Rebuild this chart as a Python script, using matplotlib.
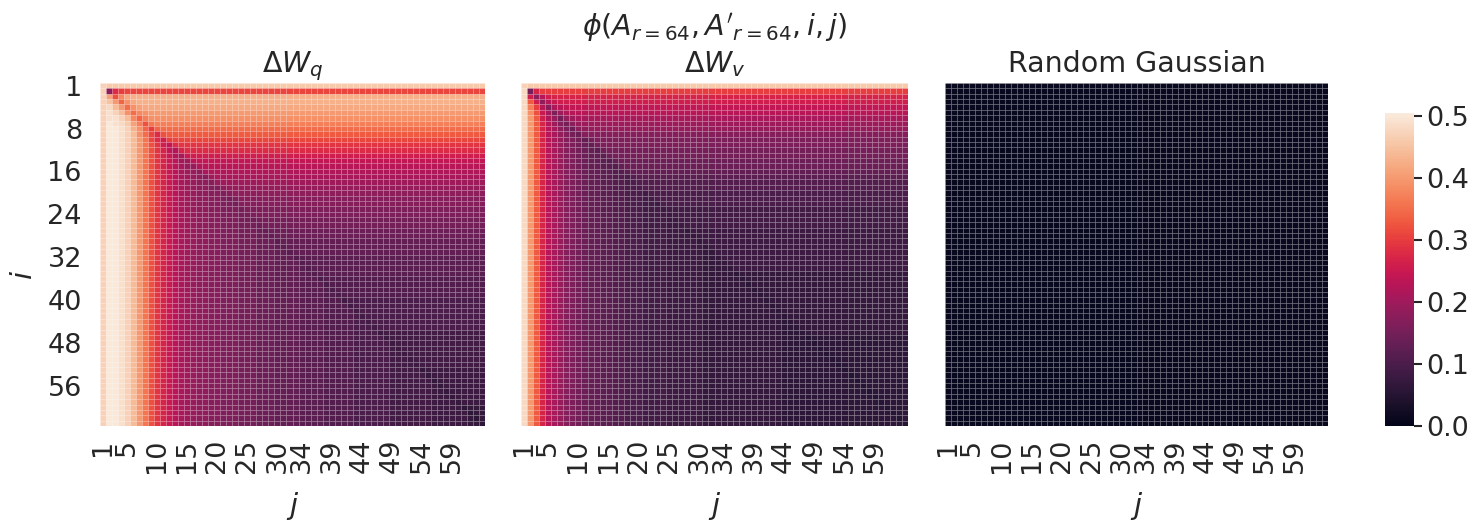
import numpy as np
import matplotlib
matplotlib.use("Agg")
import matplotlib.pyplot as plt
import seaborn as sns
from matplotlib.colors import Normalize

# ---------------- data ----------------
# each character is one cell; value = LEVELS.index(char) / 100
LEVELS = "0123456789abcdefghijklmnopqrstuvwxyzABCDEFGHIJKLMNOPQRSTUVWXYZ"

DWQ_ROWS = [
    "LKKKKKKK KKKKKKKK KKKKKKKK KKKKKKKK KKKKKKKK KKKKKKKK KKKKKKKK KKKKKKKK",
    "Lisuvvvv vvvvvvvv vvvvvvvv vvvvvvvv vvvvvvvv vvvvvvvv vvvvvvvv vvvvvvvv",
    "LFwCGHHH HHHHHHHH HHHHHHHH HHHHHHHH HHHHHHHH HHHHHHHH HHHHHHHH HHHHHHHH",
    "LJEyDGHH HHHHHHHH HHHHHHHH HHHHHHHH HHHHHHHH HHHHHHHH HHHHHHHH HHHHHHHH",
    "LMIEzDFG GGGGGGGG GGGGGGGG GGGGGGGG GGGGGGGG GGGGGGGG GGGGGGGG GGGGGGGG",
    "LNLIDzCD EEEEEEEE EEEEEEEE EEEEEEEE EEEEEEEE EEEEEEEE EEEEEEEE EEEEEEEE",
    "LNNLICyB DDDDDDDD DDDDDDDD DDDDDDDD DDDDDDDD DDDDDDDD DDDDDDDD DDDDDDDD",
    "LONMKFBw ABBBBBBB BBBBBBBB BBBBBBBB BBBBBBBB BBBBBBBB BBBBBBBB BBBBBBBB",
    "LOONLHDy uyzzzzzz zzzzzzzz zzzzzzzz zzzzzzzz zzzzzzzz zzzzzzzz zzzzzzzz",
    "LOONLIDz vswxxxxx xxxxxxxx xxxxxxxx xxxxxxxx xxxxxxxx xxxxxxxx xxxxxxxx",
    "LOONLIEA vsquvvvv vvvvvvvv vvvvvvvv vvvvvvvv vvvvvvvv vvvvvvvv vvvvvvvv",
    "LOONLIEA wtqosttt tttttttt tttttttt tttttttt tttttttt tttttttt tttttttt",
    "LOONLIEA wtromrss ssssssss ssssssss ssssssss ssssssss ssssssss ssssssss",
    "LOONLIEA wtrpmlpq qqqqqqqq qqqqqqqq qqqqqqqq qqqqqqqq qqqqqqqq qqqqqqqq",
    "LOONLIEA wtrpnkkn oooooooo oooooooo oooooooo oooooooo oooooooo oooooooo",
    "LOONLIEA wtrpnljj mnnnnnnn nnnnnnnn nnnnnnnn nnnnnnnn nnnnnnnn nnnnnnnn",
    "LOONLIEA wtrpnlkj ilmmmmmm mmmmmmmm mmmmmmmm mmmmmmmm mmmmmmmm mmmmmmmm",
    "LOONLIEA wtrpnlkj ihklllll llllllll llllllll llllllll llllllll llllllll",
    "LOONLIEA wtrpnlkj iihjkkkk kkkkkkkk kkkkkkkk kkkkkkkk kkkkkkkk kkkkkkkk",
    "LOONLIEA wtrpnlkj iihgijjj jjjjjjjj jjjjjjjj jjjjjjjj jjjjjjjj jjjjjjjj",
    "LOONLIEA wtrpnlkj iihhghii iiiiiiii iiiiiiii iiiiiiii iiiiiiii iiiiiiii",
    "LOONLIEA wtrpnlkj iihhgfgh hhhhhhhh hhhhhhhh hhhhhhhh hhhhhhhh hhhhhhhh",
    "LOONLIEA wtrpnlkj iihhggfh hhhhhhhh hhhhhhhh hhhhhhhh hhhhhhhh hhhhhhhh",
    "LOONLIEA wtrpnlkj iihhgggf gggggggg gggggggg gggggggg gggggggg gggggggg",
    "LOONLIEA wtrpnlkj iihhgggf fggggggg gggggggg gggggggg gggggggg gggggggg",
    "LOONLIEA wtrpnlkj iihhgggf feffffff ffffffff ffffffff ffffffff ffffffff",
    "LOONLIEA wtrpnlkj iihhgggf ffefffff ffffffff ffffffff ffffffff ffffffff",
    "LOONLIEA wtrpnlkj iihhgggf ffedeeee eeeeeeee eeeeeeee eeeeeeee eeeeeeee",
    "LOONLIEA wtrpnlkj iihhgggf ffeedeee eeeeeeee eeeeeeee eeeeeeee eeeeeeee",
    "LOONLIEA wtrpnlkj iihhgggf ffeeecdd dddddddd dddddddd dddddddd dddddddd",
    "LOONLIEA wtrpnlkj iihhgggf ffeeedcd dddddddd dddddddd dddddddd dddddddd",
    "LOONLIEA wtrpnlkj iihhgggf ffeeeddc dddddddd dddddddd dddddddd dddddddd",
    "LOONLIEA wtrpnlkj iihhgggf ffeeeddd bccccccc cccccccc cccccccc cccccccc",
    "LOONLIEA wtrpnlkj iihhgggf ffeeeddd dbcccccc cccccccc cccccccc cccccccc",
    "LOONLIEA wtrpnlkj iihhgggf ffeeeddd dcbccccc cccccccc cccccccc cccccccc",
    "LOONLIEA wtrpnlkj iihhgggf ffeeeddd dccbcccc cccccccc cccccccc cccccccc",
    "LOONLIEA wtrpnlkj iihhgggf ffeeeddd dcccabbb bbbbbbbb bbbbbbbb bbbbbbbb",
    "LOONLIEA wtrpnlkj iihhgggf ffeeeddd dccccabb bbbbbbbb bbbbbbbb bbbbbbbb",
    "LOONLIEA wtrpnlkj iihhgggf ffeeeddd dccccbab bbbbbbbb bbbbbbbb bbbbbbbb",
    "LOONLIEA wtrpnlkj iihhgggf ffeeeddd dccccbba bbbbbbbb bbbbbbbb bbbbbbbb",
    "LOONLIEA wtrpnlkj iihhgggf ffeeeddd dccccbbb 9aaaaaaa aaaaaaaa aaaaaaaa",
    "LOONLIEA wtrpnlkj iihhgggf ffeeeddd dccccbbb b9aaaaaa aaaaaaaa aaaaaaaa",
    "LOONLIEA wtrpnlkj iihhgggf ffeeeddd dccccbbb bb9aaaaa aaaaaaaa aaaaaaaa",
    "LOONLIEA wtrpnlkj iihhgggf ffeeeddd dccccbbb bba9aaaa aaaaaaaa aaaaaaaa",
    "LOONLIEA wtrpnlkj iihhgggf ffeeeddd dccccbbb bbaa9aaa aaaaaaaa aaaaaaaa",
    "LOONLIEA wtrpnlkj iihhgggf ffeeeddd dccccbbb bbaaa9aa aaaaaaaa aaaaaaaa",
    "LOONLIEA wtrpnlkj iihhgggf ffeeeddd dccccbbb bbaaaa89 99999999 99999999",
    "LOONLIEA wtrpnlkj iihhgggf ffeeeddd dccccbbb bbaaaaa8 99999999 99999999",
    "LOONLIEA wtrpnlkj iihhgggf ffeeeddd dccccbbb bbaaaaaa 89999999 99999999",
    "LOONLIEA wtrpnlkj iihhgggf ffeeeddd dccccbbb bbaaaaaa 98999999 99999999",
    "LOONLIEA wtrpnlkj iihhgggf ffeeeddd dccccbbb bbaaaaaa 99899999 99999999",
    "LOONLIEA wtrpnlkj iihhgggf ffeeeddd dccccbbb bbaaaaaa 99989999 99999999",
    "LOONLIEA wtrpnlkj iihhgggf ffeeeddd dccccbbb bbaaaaaa 99998999 99999999",
    "LOONLIEA wtrpnlkj iihhgggf ffeeeddd dccccbbb bbaaaaaa 99999788 88888888",
    "LOONLIEA wtrpnlkj iihhgggf ffeeeddd dccccbbb bbaaaaaa 99999978 88888888",
    "LOONLIEA wtrpnlkj iihhgggf ffeeeddd dccccbbb bbaaaaaa 99999997 88888888",
    "LOONLIEA wtrpnlkj iihhgggf ffeeeddd dccccbbb bbaaaaaa 99999998 78888888",
    "LOONLIEA wtrpnlkj iihhgggf ffeeeddd dccccbbb bbaaaaaa 99999998 87888888",
    "LOONLIEA wtrpnlkj iihhgggf ffeeeddd dccccbbb bbaaaaaa 99999998 88788888",
    "LOONLIEA wtrpnlkj iihhgggf ffeeeddd dccccbbb bbaaaaaa 99999998 88878888",
    "LOONLIEA wtrpnlkj iihhgggf ffeeeddd dccccbbb bbaaaaaa 99999998 88886777",
    "LOONLIEA wtrpnlkj iihhgggf ffeeeddd dccccbbb bbaaaaaa 99999998 88888677",
    "LOONLIEA wtrpnlkj iihhgggf ffeeeddd dccccbbb bbaaaaaa 99999998 88888767",
    "LOONLIEA wtrpnlkj iihhgggf ffeeeddd dccccbbb bbaaaaaa 99999998 88888776",
]

DWV_ROWS = [
    "LKKKKKKK KKKKKKKK KKKKKKKK KKKKKKKK KKKKKKKK KKKKKKKK KKKKKKKK KKKKKKKK",
    "Mfruuuuu uuuuuuuu uuuuuuuu uuuuuuuu uuuuuuuu uuuuuuuu uuuuuuuu uuuuuuuu",
    "Mqinqrrr rrrrrrrr rrrrrrrr rrrrrrrr rrrrrrrr rrrrrrrr rrrrrrrr rrrrrrrr",
    "Mxqinpqq qqqqqqqq qqqqqqqq qqqqqqqq qqqqqqqq qqqqqqqq qqqqqqqq qqqqqqqq",
    "MBunhmno oooooooo oooooooo oooooooo oooooooo oooooooo oooooooo oooooooo",
    "MDwplgkm nnnnnnnn nnnnnnnn nnnnnnnn nnnnnnnn nnnnnnnn nnnnnnnn nnnnnnnn",
    "MExqmjfj klllllll llllllll llllllll llllllll llllllll llllllll llllllll",
    "MExrnkhf ijkkkkkk kkkkkkkk kkkkkkkk kkkkkkkk kkkkkkkk kkkkkkkk kkkkkkkk",
    "MExrnlig eiijjjjj jjjjjjjj jjjjjjjj jjjjjjjj jjjjjjjj jjjjjjjj jjjjjjjj",
    "MExrnljh fehhhhhh hhhhhhhh hhhhhhhh hhhhhhhh hhhhhhhh hhhhhhhh hhhhhhhh",
    "MExrnljh gfdfgggg gggggggg gggggggg gggggggg gggggggg gggggggg gggggggg",
    "MExrnljh gfedfggg gggggggg gggggggg gggggggg gggggggg gggggggg gggggggg",
    "MExrnljh gfedceff ffffffff ffffffff ffffffff ffffffff ffffffff ffffffff",
    "MExrnljh gfeddcef ffffffff ffffffff ffffffff ffffffff ffffffff ffffffff",
    "MExrnljh gfeddcbd eeeeeeee eeeeeeee eeeeeeee eeeeeeee eeeeeeee eeeeeeee",
    "MExrnljh gfeddccb deeeeeee eeeeeeee eeeeeeee eeeeeeee eeeeeeee eeeeeeee",
    "MExrnljh gfeddccb bcdddddd dddddddd dddddddd dddddddd dddddddd dddddddd",
    "MExrnljh gfeddccb babccccc cccccccc cccccccc cccccccc cccccccc cccccccc",
    "MExrnljh gfeddccb baabbbbb bbbbbbbb bbbbbbbb bbbbbbbb bbbbbbbb bbbbbbbb",
    "MExrnljh gfeddccb baaabbbb bbbbbbbb bbbbbbbb bbbbbbbb bbbbbbbb bbbbbbbb",
    "MExrnljh gfeddccb baaa9aaa aaaaaaaa aaaaaaaa aaaaaaaa aaaaaaaa aaaaaaaa",
    "MExrnljh gfeddccb baaa99aa aaaaaaaa aaaaaaaa aaaaaaaa aaaaaaaa aaaaaaaa",
    "MExrnljh gfeddccb baaa998a aaaaaaaa aaaaaaaa aaaaaaaa aaaaaaaa aaaaaaaa",
    "MExrnljh gfeddccb baaa9998 99999999 99999999 99999999 99999999 99999999",
    "MExrnljh gfeddccb baaa9999 89999999 99999999 99999999 99999999 99999999",
    "MExrnljh gfeddccb baaa9999 88999999 99999999 99999999 99999999 99999999",
    "MExrnljh gfeddccb baaa9999 88899999 99999999 99999999 99999999 99999999",
    "MExrnljh gfeddccb baaa9999 88878888 88888888 88888888 88888888 88888888",
    "MExrnljh gfeddccb baaa9999 88887888 88888888 88888888 88888888 88888888",
    "MExrnljh gfeddccb baaa9999 88888788 88888888 88888888 88888888 88888888",
    "MExrnljh gfeddccb baaa9999 88888878 88888888 88888888 88888888 88888888",
    "MExrnljh gfeddccb baaa9999 88888877 88888888 88888888 88888888 88888888",
    "MExrnljh gfeddccb baaa9999 88888877 78888888 88888888 88888888 88888888",
    "MExrnljh gfeddccb baaa9999 88888877 77888888 88888888 88888888 88888888",
    "MExrnljh gfeddccb baaa9999 88888877 77788888 88888888 88888888 88888888",
    "MExrnljh gfeddccb baaa9999 88888877 77767777 77777777 77777777 77777777",
    "MExrnljh gfeddccb baaa9999 88888877 77776777 77777777 77777777 77777777",
    "MExrnljh gfeddccb baaa9999 88888877 77777677 77777777 77777777 77777777",
    "MExrnljh gfeddccb baaa9999 88888877 77777767 77777777 77777777 77777777",
    "MExrnljh gfeddccb baaa9999 88888877 77777776 77777777 77777777 77777777",
    "MExrnljh gfeddccb baaa9999 88888877 77777777 67777777 77777777 77777777",
    "MExrnljh gfeddccb baaa9999 88888877 77777777 76777777 77777777 77777777",
    "MExrnljh gfeddccb baaa9999 88888877 77777777 77677777 77777777 77777777",
    "MExrnljh gfeddccb baaa9999 88888877 77777777 77767777 77777777 77777777",
    "MExrnljh gfeddccb baaa9999 88888877 77777777 77766777 77777777 77777777",
    "MExrnljh gfeddccb baaa9999 88888877 77777777 77766677 77777777 77777777",
    "MExrnljh gfeddccb baaa9999 88888877 77777777 77766667 77777777 77777777",
    "MExrnljh gfeddccb baaa9999 88888877 77777777 77766665 66666666 66666666",
    "MExrnljh gfeddccb baaa9999 88888877 77777777 77766666 56666666 66666666",
    "MExrnljh gfeddccb baaa9999 88888877 77777777 77766666 65666666 66666666",
    "MExrnljh gfeddccb baaa9999 88888877 77777777 77766666 66566666 66666666",
    "MExrnljh gfeddccb baaa9999 88888877 77777777 77766666 66656666 66666666",
    "MExrnljh gfeddccb baaa9999 88888877 77777777 77766666 66665666 66666666",
    "MExrnljh gfeddccb baaa9999 88888877 77777777 77766666 66666566 66666666",
    "MExrnljh gfeddccb baaa9999 88888877 77777777 77766666 66666656 66666666",
    "MExrnljh gfeddccb baaa9999 88888877 77777777 77766666 66666665 66666666",
    "MExrnljh gfeddccb baaa9999 88888877 77777777 77766666 66666666 56666666",
    "MExrnljh gfeddccb baaa9999 88888877 77777777 77766666 66666666 65666666",
    "MExrnljh gfeddccb baaa9999 88888877 77777777 77766666 66666666 66566666",
    "MExrnljh gfeddccb baaa9999 88888877 77777777 77766666 66666666 66656666",
    "MExrnljh gfeddccb baaa9999 88888877 77777777 77766666 66666666 66665666",
    "MExrnljh gfeddccb baaa9999 88888877 77777777 77766666 66666666 66666566",
    "MExrnljh gfeddccb baaa9999 88888877 77777777 77766666 66666666 66666656",
    "MExrnljh gfeddccb baaa9999 88888877 77777777 77766666 66666666 66666665",
]

RAND_ROWS = [
    "11111111 11111111 11111111 11111111 11111111 11111111 11111111 11111111",
    "11111111 11111111 11111111 11111111 11111111 11111111 11111111 11111111",
    "11111111 11111111 11111111 11111111 11111111 11111111 11111111 11111111",
    "11111111 11111111 11111111 11111111 11111111 11111111 11111111 11111111",
    "11111111 11111111 11111111 11111111 11111111 11111111 11111111 11111111",
    "11111111 11111111 11111111 11111111 11111111 11111111 11111111 11111111",
    "11111111 11111111 11111111 11111111 11111111 11111111 11111111 11111111",
    "11111111 11111111 11111111 11111111 11111111 11111111 11111111 11111111",
    "11111111 11111111 11111111 11111111 11111111 11111111 11111111 11111111",
    "11111111 11111111 11111111 11111111 11111111 11111111 11111111 11111111",
    "11111111 11111111 11111111 11111111 11111111 11111111 11111111 11111111",
    "11111111 11111111 11111111 11111111 11111111 11111111 11111111 11111111",
    "11111111 11111111 11111111 11111111 11111111 11111111 11111111 11111111",
    "11111111 11111111 11111111 11111111 11111111 11111111 11111111 11111111",
    "11111111 11111111 11111111 11111111 11111111 11111111 11111111 11111111",
    "11111111 11111111 11111111 11111111 11111111 11111111 11111111 11111111",
    "11111111 11111111 11111111 11111111 11111111 11111111 11111111 11111111",
    "11111111 11111111 11111111 11111111 11111111 11111111 11111111 11111111",
    "11111111 11111111 11111111 11111111 11111111 11111111 11111111 11111111",
    "11111111 11111111 11111111 11111111 11111111 11111111 11111111 11111111",
    "11111111 11111111 11111111 11111111 11111111 11111111 11111111 11111111",
    "11111111 11111111 11111111 11111111 11111111 11111111 11111111 11111111",
    "11111111 11111111 11111111 11111111 11111111 11111111 11111111 11111111",
    "11111111 11111111 11111111 11111111 11111111 11111111 11111111 11111111",
    "11111111 11111111 11111111 11111111 11111111 11111111 11111111 11111111",
    "11111111 11111111 11111111 11111111 11111111 11111111 11111111 11111111",
    "11111111 11111111 11111111 11111111 11111111 11111111 11111111 11111111",
    "11111111 11111111 11111111 11111111 11111111 11111111 11111111 11111111",
    "11111111 11111111 11111111 11111111 11111111 11111111 11111111 11111111",
    "11111111 11111111 11111111 11111111 11111111 11111111 11111111 11111111",
    "11111111 11111111 11111111 11111111 11111111 11111111 11111111 11111111",
    "11111111 11111111 11111111 11111111 11111111 11111111 11111111 11111111",
    "11111111 11111111 11111111 11111111 11111111 11111111 11111111 11111111",
    "11111111 11111111 11111111 11111111 11111111 11111111 11111111 11111111",
    "11111111 11111111 11111111 11111111 11111111 11111111 11111111 11111111",
    "11111111 11111111 11111111 11111111 11111111 11111111 11111111 11111111",
    "11111111 11111111 11111111 11111111 11111111 11111111 11111111 11111111",
    "11111111 11111111 11111111 11111111 11111111 11111111 11111111 11111111",
    "11111111 11111111 11111111 11111111 11111111 11111111 11111111 11111111",
    "11111111 11111111 11111111 11111111 11111111 11111111 11111111 11111111",
    "11111111 11111111 11111111 11111111 11111111 11111111 11111111 11111111",
    "11111111 11111111 11111111 11111111 11111111 11111111 11111111 11111111",
    "11111111 11111111 11111111 11111111 11111111 11111111 11111111 11111111",
    "11111111 11111111 11111111 11111111 11111111 11111111 11111111 11111111",
    "11111111 11111111 11111111 11111111 11111111 11111111 11111111 11111111",
    "11111111 11111111 11111111 11111111 11111111 11111111 11111111 11111111",
    "11111111 11111111 11111111 11111111 11111111 11111111 11111111 11111111",
    "11111111 11111111 11111111 11111111 11111111 11111111 11111111 11111111",
    "11111111 11111111 11111111 11111111 11111111 11111111 11111111 11111111",
    "11111111 11111111 11111111 11111111 11111111 11111111 11111111 11111111",
    "11111111 11111111 11111111 11111111 11111111 11111111 11111111 11111111",
    "11111111 11111111 11111111 11111111 11111111 11111111 11111111 11111111",
    "11111111 11111111 11111111 11111111 11111111 11111111 11111111 11111111",
    "11111111 11111111 11111111 11111111 11111111 11111111 11111111 11111111",
    "11111111 11111111 11111111 11111111 11111111 11111111 11111111 11111111",
    "11111111 11111111 11111111 11111111 11111111 11111111 11111111 11111111",
    "11111111 11111111 11111111 11111111 11111111 11111111 11111111 11111111",
    "11111111 11111111 11111111 11111111 11111111 11111111 11111111 11111111",
    "11111111 11111111 11111111 11111111 11111111 11111111 11111111 11111111",
    "11111111 11111111 11111111 11111111 11111111 11111111 11111111 11111111",
    "11111111 11111111 11111111 11111111 11111111 11111111 11111111 11111111",
    "11111111 11111111 11111111 11111111 11111111 11111111 11111111 11111111",
    "11111111 11111111 11111111 11111111 11111111 11111111 11111111 11111111",
    "11111111 11111111 11111111 11111111 11111111 11111111 11111111 11111111",
]

PANEL_TITLES = [r"$\Delta W_q$",
                r"$\phi(A_{r=64}, A'_{r=64}, i, j)$" + "\n" + r"$\Delta W_v$",
                "Random Gaussian"]
X_TICK_LABELS = [1, 5, 10, 15, 20, 25, 30, 34, 39, 44, 49, 54, 59]
Y_TICK_ROWS = [0, 8, 16, 24, 32, 40, 48, 56]       # row index of each y tick
Y_TICK_LABELS = [1, 8, 16, 24, 32, 40, 48, 56]
CBAR_TICKS = [0.0, 0.1, 0.2, 0.3, 0.4, 0.5]
VMIN, VMAX = 0.0, 0.505


def decode(rows):
    out = []
    for r in rows:
        s = r.replace(" ", "")
        assert len(s) == 64, (len(s), r)
        out.append([LEVELS.index(c) / 100.0 for c in s])
    m = np.array(out)
    assert m.shape == (64, 64), m.shape
    return m


MATS = [decode(DWQ_ROWS), decode(DWV_ROWS), decode(RAND_ROWS)]

# ---------------- drawing ----------------
TXT = "#262626"
plt.rcParams["font.family"] = ["DejaVu Sans"]
plt.rcParams["mathtext.fontset"] = "dejavusans"
plt.rcParams["text.color"] = TXT

cmap = sns.color_palette("rocket", as_cmap=True)
norm = Normalize(VMIN, VMAX)

W, H = 1480.0, 524.0
fig = plt.figure(figsize=(14.8, 5.24), dpi=100)
fig.patch.set_facecolor("white")


def box(x0, y0, x1, y1):
    return [x0 / W, 1 - y1 / H, (x1 - x0) / W, (y1 - y0) / H]


axes = [fig.add_axes(box(100, 83, 485, 426)),
        fig.add_axes(box(521, 83, 908, 426)),
        fig.add_axes(box(945, 83, 1328, 426))]
cax = fig.add_axes(box(1385, 113, 1414, 426))

edges = np.arange(65)
mesh = None
for k, (ax, Z, title) in enumerate(zip(axes, MATS, PANEL_TITLES)):
    mesh = ax.pcolormesh(edges, edges, Z, cmap=cmap, norm=norm,
                         edgecolors=(1, 1, 1, 0.14), linewidth=0.4,
                         antialiased=True)
    ax.set_xlim(0, 64)
    ax.set_ylim(64, 0)
    for sp in ax.spines.values():
        sp.set_visible(False)
    ax.set_xticks([v - 0.5 for v in X_TICK_LABELS])
    ax.set_xticklabels([str(v) for v in X_TICK_LABELS], rotation=90,
                       fontsize=19.5, color=TXT)
    ax.tick_params(axis="x", length=0, pad=9)
    if k == 0:
        ax.set_yticks([r + 0.5 for r in Y_TICK_ROWS])
        ax.set_yticklabels([str(v) for v in Y_TICK_LABELS], fontsize=19.5,
                           color=TXT)
        ax.tick_params(axis="y", length=0, pad=13)
        ax.set_ylabel(r"$i$", fontsize=21, color=TXT)
        ax.yaxis.set_label_coords(-0.16, 0.44)
    else:
        ax.set_yticks([])
    ax.set_xlabel(r"$j$", fontsize=21, color=TXT, labelpad=12)
    ax.set_title(title, fontsize=20.5, color=TXT, pad=8, linespacing=1.2)

cb = fig.colorbar(mesh, cax=cax, ticks=CBAR_TICKS)
cb.outline.set_visible(False)
cb.ax.set_yticklabels([f"{t:.1f}" for t in CBAR_TICKS], fontsize=19.5,
                      color=TXT)
cb.ax.tick_params(length=6, width=1.5, color=TXT, pad=3)

fig.savefig("out.png", dpi=100, facecolor="white")
